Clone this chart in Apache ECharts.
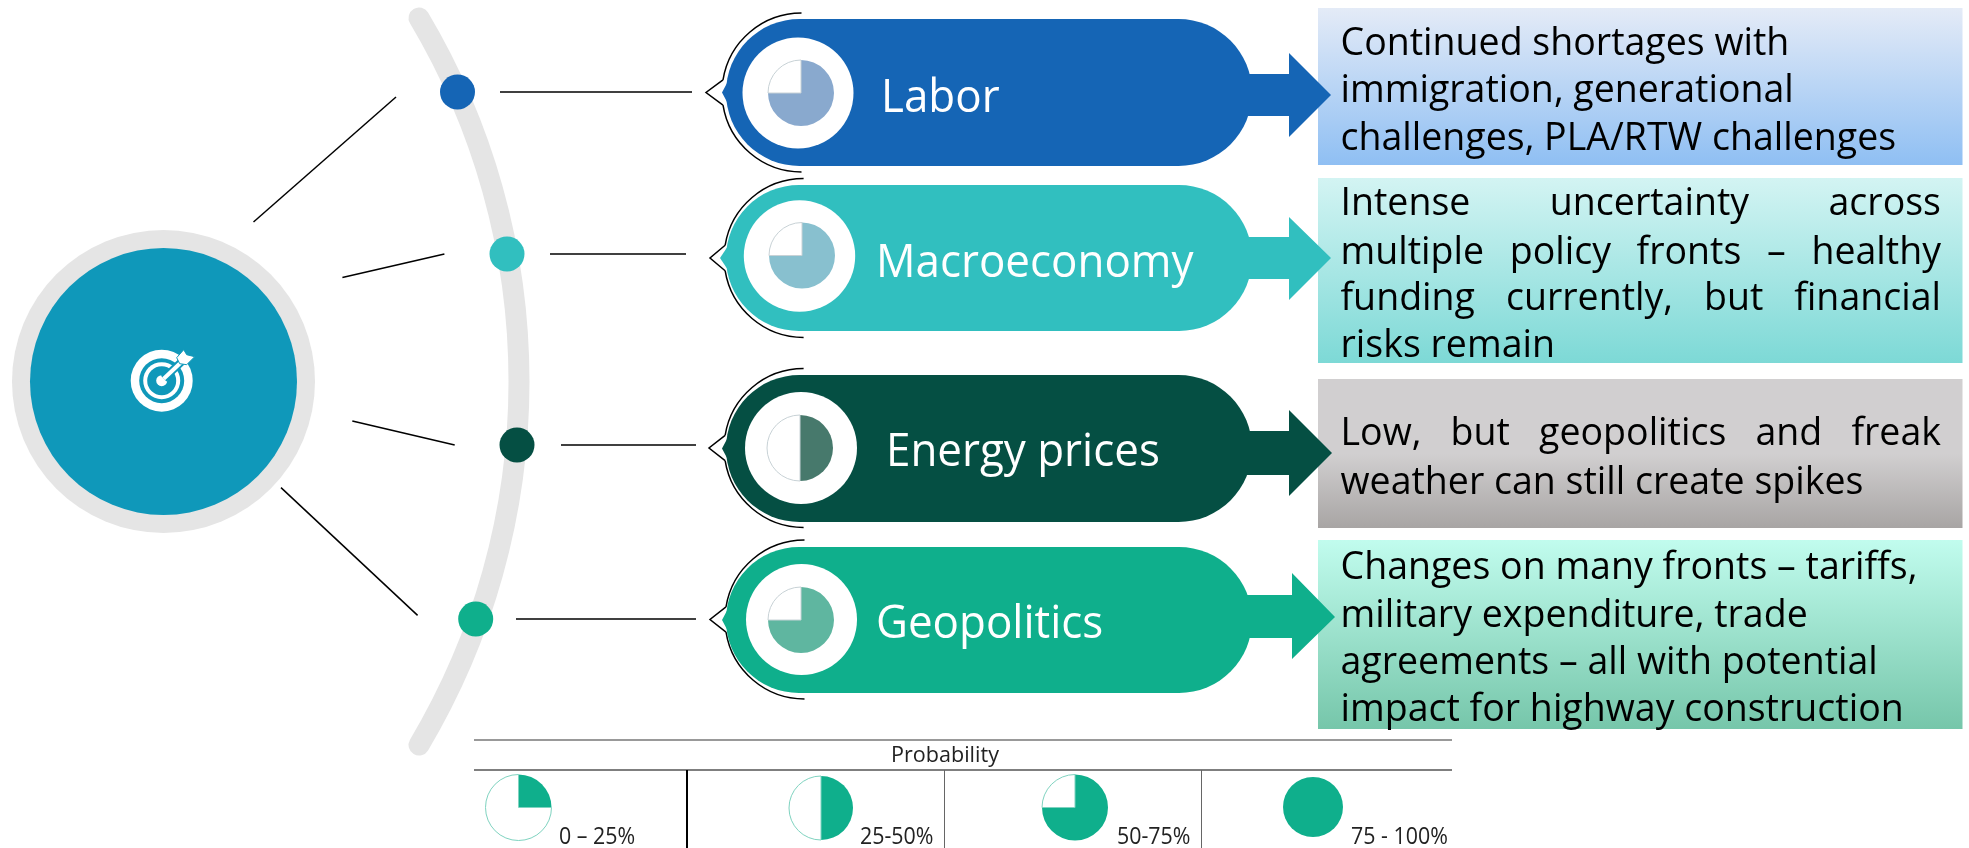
<!DOCTYPE html>
<html>
<head>
<meta charset="utf-8">
<title>Risk factors</title>
<script src="https://cdn.jsdelivr.net/npm/echarts@6/dist/echarts.min.js"></script>
<style>
  html, body { margin: 0; padding: 0; background: #fff; }
  #chart { width: 1969px; height: 848px; }
</style>
</head>
<body>
<div id="chart"></div>
<script>
// data
const categories = ['Labor', 'Macroeconomy', 'Energy prices', 'Geopolitics'];
const probability = [75, 75, 50, 75];
const legendTitle = 'Probability';
const legendLabels = ['0 – 25%', '25-50%', '50-75%', '75 - 100%'];
const legendValues = [25, 50, 75, 100];
const laborText = ['Continued shortages with', 'immigration, generational', 'challenges, PLA/RTW challenges'];
const macroText = ['Intense uncertainty across', 'multiple policy fronts – healthy', 'funding currently, but financial', 'risks remain'];
const energyText = ['Low, but geopolitics and freak', 'weather can still create spikes'];
const geoText = ['Changes on many fronts – tariffs,', 'military expenditure, trade', 'agreements – all with potential', 'impact for highway construction'];

// layout, in page pixels
const FONT = '"Open Sans", sans-serif';
const rows = [
  {
    color: '#1565B5', pie: '#89A9CE', dot: [457.5, 92], left: [[253.5, 222], [396, 97]], lineX: [500, 692],
    top: 19, h: 147, tip: 722, hole: [798, 93, 55.5], center: [801, 93], brace: [801.5, 92.5, 706],
    arrow: [1289, 74, 116, 53, 137, 1331, 95], labelX: 881, labelY: 99,
    box: [8, 165, '#E4EBF7', '#8FBFF3'], text: laborText, textY: [44, 91, 139], justify: [false, false, false]
  },
  {
    color: '#31BFBF', pie: '#88C0CF', dot: [507, 254], left: [[342.4, 277.6], [444.4, 254]], lineX: [550, 686],
    top: 185, h: 146, tip: 720, hole: [799.5, 256, 55.7], center: [802, 255.5], brace: [803.6, 258, 710],
    arrow: [1289, 237, 279, 217, 300, 1331, 258], labelX: 876, labelY: 263.5,
    box: [178, 363, '#D3F4F3', '#7DD9D6'], text: macroText, textY: [204, 252.5, 299, 345.5], justify: [true, true, true, false]
  },
  {
    color: '#054F43', pie: '#47796C', dot: [517, 445], left: [[352.3, 421], [454.7, 445]], lineX: [561, 696],
    top: 375, h: 147, tip: 722, hole: [801, 448, 56], center: [800, 448], brace: [803.6, 448, 709],
    arrow: [1289, 431, 475, 410, 496, 1332, 453], labelX: 886, labelY: 452.5,
    box: [379, 528, '#D1CFD0', '#A8A5A4'], text: energyText, textY: [434, 482.5], justify: [true, false]
  },
  {
    color: '#0FAF8C', pie: '#5FB6A0', dot: [475.7, 619], left: [[281, 487.6], [417.6, 615.4]], lineX: [516, 696],
    top: 547, h: 146, tip: 722, hole: [801.5, 619.5, 55.5], center: [801, 620], brace: [804.5, 619.5, 710],
    arrow: [1292, 595, 638, 573, 659, 1335, 617], labelX: 876, labelY: 624.5,
    box: [540, 729, '#C1FCEE', '#76C6AA'], text: geoText, textY: [567.5, 615.5, 662.5, 709.5], justify: [false, false, false, false]
  }
];
const legendPies = [[518.5, 807.5, 33], [821, 808, 32], [1075, 807.5, 33], [1313, 807, 30]];
const legendLabelX = [559, 860, 1117, 1351];
const legendDividers = [[687, '#000', 2], [944.5, '#666', 1], [1201.5, '#666', 1]];
const BOX_LEFT = 1318, BOX_RIGHT = 1962.5, TEXT_LEFT = 1340.5, TEXT_RIGHT = 1941;
const BODY_SIZE = 39, BODY_SQUEEZE = 0.962, LABEL_SIZE = 46, LABEL_SQUEEZE = 0.955;

const measure = document.createElement('canvas').getContext('2d');
function textWidth(str, size) {
  measure.font = size + 'px ' + FONT;
  return measure.measureText(str).width;
}

function textEl(str, x, y, size, fill, scaleX, align) {
  return {
    type: 'text', x: x, y: y, scaleX: scaleX || 1, silent: true,
    style: { text: str, fill: fill, font: size + 'px ' + FONT, textAlign: align || 'left', textVerticalAlign: 'middle' }
  };
}

function line(x1, y1, x2, y2, color, width) {
  return {
    type: 'line', silent: true,
    shape: { x1: x1, y1: y1, x2: x2, y2: y2 },
    style: { stroke: color, lineWidth: width }
  };
}

function circle(cx, cy, r, fill) {
  return { type: 'circle', silent: true, shape: { cx: cx, cy: cy, r: r }, style: { fill: fill } };
}

// one text line, spread word by word when the box text is justified
function bodyLine(str, y, justified) {
  if (!justified) return [textEl(str, TEXT_LEFT, y, BODY_SIZE, '#000', BODY_SQUEEZE)];
  const words = str.split(' ');
  const widths = words.map((w) => textWidth(w, BODY_SIZE) * BODY_SQUEEZE);
  const used = widths.reduce((a, b) => a + b, 0);
  const gap = (TEXT_RIGHT - TEXT_LEFT - used) / (words.length - 1);
  let x = TEXT_LEFT;
  return words.map((w, i) => {
    const el = textEl(w, x, y, BODY_SIZE, '#000', BODY_SQUEEZE);
    x += widths[i] + gap;
    return el;
  });
}

function brace(b, color) {
  const r = 79.5, dy = 12.7, a = Math.asin(dy / r);
  const cx = b[0], cy = b[1], tipX = b[2];
  const edge = cx - Math.sqrt(r * r - dy * dy);
  const stroke = { stroke: color, lineWidth: 1.5, fill: null };
  return [
    { type: 'arc', silent: true, shape: { cx: cx, cy: cy, r: r, startAngle: Math.PI + a, endAngle: Math.PI * 1.5, clockwise: true }, style: stroke },
    { type: 'arc', silent: true, shape: { cx: cx, cy: cy, r: r, startAngle: Math.PI / 2, endAngle: Math.PI - a, clockwise: true }, style: stroke },
    { type: 'polyline', silent: true, shape: { points: [[edge, cy - dy], [tipX, cy], [edge, cy + dy]] }, style: stroke }
  ];
}

function rowShapes(row, i) {
  const midY = row.top + row.h / 2;
  const a = row.arrow;
  const boxTop = row.box[0], boxBottom = row.box[1];
  let out = [
    line(row.left[0][0], row.left[0][1], row.left[1][0], row.left[1][1], '#000', 1.5),
    line(row.lineX[0], row.dot[1], row.lineX[1], row.dot[1], '#000', 1.5),
    circle(row.dot[0], row.dot[1], 17.5, row.color)
  ];
  out = out.concat(brace(row.brace, '#000'));
  out.push({
    type: 'rect', silent: true,
    shape: { x: 726, y: row.top, width: 1252 - 726, height: row.h, r: row.h / 2 },
    style: { fill: row.color }
  });
  out.push({
    type: 'polygon', silent: true,
    shape: { points: [[730, midY - 15], [row.tip, midY], [730, midY + 15]] },
    style: { fill: row.color }
  });
  out.push({
    type: 'rect', silent: true,
    shape: { x: BOX_LEFT, y: boxTop, width: BOX_RIGHT - BOX_LEFT, height: boxBottom - boxTop },
    style: {
      fill: new echarts.graphic.LinearGradient(0, 0, 0, 1, i === 2
        ? [{ offset: 0, color: row.box[2] }, { offset: 0.5, color: row.box[2] }, { offset: 1, color: row.box[3] }]
        : [{ offset: 0, color: row.box[2] }, { offset: 1, color: row.box[3] }])
    }
  });
  out.push({
    type: 'polygon', silent: true,
    shape: { points: [[1230, a[1]], [a[0], a[1]], [a[0], a[3]], [a[5], a[6]], [a[0], a[4]], [a[0], a[2]], [1230, a[2]]] },
    style: { fill: row.color }
  });
  out.push(circle(row.hole[0], row.hole[1], row.hole[2], '#fff'));
  out.push(textEl(categories[i], row.labelX, row.labelY, LABEL_SIZE, '#fff', LABEL_SQUEEZE));
  row.text.forEach((str, k) => {
    out = out.concat(bodyLine(str, row.textY[k], row.justify[k]));
  });
  return out;
}

function targetIcon(cx, cy) {
  const teal = '#0F98BA';
  return [
    circle(cx, cy, 31, '#fff'),
    circle(cx, cy, 22.5, teal),
    circle(cx, cy, 18.5, '#fff'),
    circle(cx, cy, 14.5, teal),
    circle(cx, cy, 5.5, '#fff'),
    line(cx + 2, cy - 2, cx + 20, cy - 19, teal, 8),
    line(cx + 2, cy - 2, cx + 20, cy - 19, '#fff', 4),
    {
      type: 'polygon', silent: true,
      shape: { points: [[cx + 15, cy - 23], [cx + 22, cy - 31], [cx + 25, cy - 26], [cx + 33, cy - 24], [cx + 25, cy - 16], [cx + 18, cy - 17]] },
      style: { fill: '#fff', stroke: teal, lineWidth: 1 }
    }
  ];
}

let elements = [
  // gray arc behind the dots
  {
    type: 'arc', silent: true,
    shape: { cx: -191.7, cy: 381.5, r: 710.7, startAngle: -0.5369, endAngle: 0.5369, clockwise: true },
    style: { stroke: '#E5E5E5', lineWidth: 21, lineCap: 'round', fill: null }
  },
  circle(163.5, 381.5, 151.5, '#E5E5E5'),
  circle(163.5, 381.5, 133.5, '#0F98BA')
];
elements = elements.concat(targetIcon(161.7, 380.7));
rows.forEach((row, i) => { elements = elements.concat(rowShapes(row, i)); });

// legend table
elements.push(line(474, 740, 1452, 740, '#999', 2));
elements.push(line(474, 770, 1452, 770, '#555', 1.5));
elements.push(textEl(legendTitle, 945, 755.5, 22, '#222', 0.98, 'center'));
legendDividers.forEach((d) => elements.push(line(d[0], 770, d[0], 848, d[1], d[2])));
legendLabels.forEach((label, i) => {
  elements.push(textEl(label, legendLabelX[i], 837.5, 23, '#222', 0.93));
});

function pieSeries(value, center, radius, fill, restBorder) {
  const slices = [{ value: value, itemStyle: { color: fill } }];
  if (value < 100) {
    slices.push({ value: 100 - value, itemStyle: { color: '#fff', borderColor: restBorder, borderWidth: 1 } });
  }
  return {
    type: 'pie', silent: true, animation: false, startAngle: 90, clockwise: true,
    center: center, radius: radius, label: { show: false }, labelLine: { show: false },
    emphasis: { disabled: true },
    data: slices
  };
}

const series = [];
rows.forEach((row, i) => {
  series.push(pieSeries(probability[i], row.center, 33, row.pie, '#C8D2D6'));
});
legendValues.forEach((v, i) => {
  const p = legendPies[i];
  series.push(pieSeries(v, [p[0], p[1]], p[2], '#0FAF8C', '#7FD3C0'));
});

const chart = echarts.init(document.getElementById('chart'), null, { renderer: 'canvas' });
chart.setOption({
  animation: false,
  backgroundColor: '#fff',
  tooltip: { show: false },
  graphic: { elements: elements },
  series: series
});
</script>
</body>
</html>
